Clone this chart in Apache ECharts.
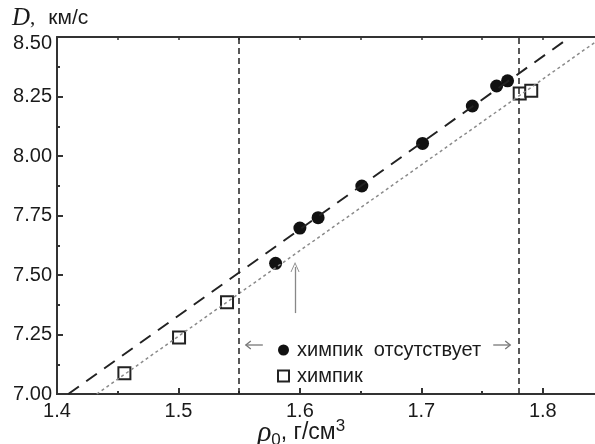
<!DOCTYPE html>
<html>
<head>
<meta charset="utf-8">
<script src="https://cdn.jsdelivr.net/npm/echarts@6/dist/echarts.min.js"></script>
<style>
  html, body { margin: 0; padding: 0; background: #fff; }
  #chart { width: 595px; height: 444px; }
</style>
</head>
<body>
<div id="chart"></div>
<script>
// данные
const circleRho = [1.580, 1.600, 1.615, 1.651, 1.701, 1.742, 1.762, 1.771]
const circleD = [7.549, 7.697, 7.741, 7.874, 8.053, 8.210, 8.294, 8.316]
const squareRho = [1.4555, 1.5005, 1.540, 1.781, 1.7905]
const squareD = [7.087, 7.237, 7.386, 8.263, 8.274]
// линии аппроксимации (концы)
const fitDashRho = [1.4093, 1.8226]
const fitDashD = [7.0, 8.5]
const fitDotRho = [1.4327, 1.8500]
const fitDotD = [7.0, 8.503]
// вертикальные границы и стрелка
const boundRho = [1.553, 1.7765]
const arrowRho = 1.596
const arrowD = [7.34, 7.534]
const legendNames = ['химпик  отсутствует', 'химпик']

const font = 'Liberation Sans'
const axisColor = '#333'
const textColor = '#1a1a1a'

const chart = echarts.init(document.getElementById('chart'))

const zip = (xs, ys) => xs.map((x, i) => [x, ys[i]])

const baseX = {
  type: 'value',
  min: 1.4,
  max: 1.85,
  splitLine: { show: false },
  axisLine: { lineStyle: { color: axisColor, width: 2 } }
}

const option = {
  animation: false,
  // сетка ровно по пикселям оригинала, без авто-ужатия под подписи
  grid: { left: 57, top: 37, bottom: 50, right: -8.5, outerBoundsMode: 'none', containLabel: false },
  xAxis: [
    Object.assign({}, baseX, {
      position: 'bottom',
      interval: 0.1,
      axisTick: { inside: true, length: 6, lineStyle: { color: axisColor, width: 2 } },
      axisLabel: {
        margin: 7,
        fontFamily: font,
        fontSize: 20,
        color: textColor,
        formatter: (v) => (Math.abs(v * 10 - Math.round(v * 10)) < 1e-6 && v < 1.84 ? v.toFixed(1) : '')
      },
      name: '{i|ρ}{sub|0}{t|, г/см}{sup|3}',
      nameLocation: 'middle',
      nameGap: 23,
      nameMoveOverlap: false,
      nameTextStyle: {
        padding: [0, 58, 0, 0],
        rich: {
          i: { fontFamily: 'Liberation Serif', fontStyle: 'italic', fontSize: 29, color: textColor },
          sub: { fontFamily: font, fontSize: 17, color: textColor, padding: [15, 0, 0, 0] },
          t: { fontFamily: font, fontSize: 23, color: textColor },
          sup: { fontFamily: font, fontSize: 17, color: textColor, padding: [0, 0, 13, 0] }
        }
      }
    }),
    Object.assign({}, baseX, {
      position: 'bottom',
      interval: 0.05,
      axisTick: { inside: true, length: 3, lineStyle: { color: axisColor, width: 2 } },
      axisLabel: { show: false }
    }),
    Object.assign({}, baseX, {
      position: 'top',
      interval: 0.05,
      axisTick: { inside: true, length: 3, lineStyle: { color: axisColor, width: 1.5 } },
      axisLabel: { show: false }
    })
  ],
  yAxis: {
    type: 'value',
    min: 7,
    max: 8.5,
    interval: 0.25,
    splitLine: { show: false },
    axisLine: { show: true, lineStyle: { color: axisColor, width: 2 } },
    axisTick: { show: true, inside: true, length: 6, lineStyle: { color: axisColor, width: 2 } },
    minorTick: { show: true, splitNumber: 2, length: 3, lineStyle: { color: axisColor, width: 2 } },
    axisLabel: {
      margin: 5,
      fontFamily: font,
      fontSize: 20,
      color: textColor,
      // верхняя подпись сдвинута вниз, как на оригинале
      formatter: (v) => (v >= 8.5 ? '{top|' + v.toFixed(2) + '}' : v.toFixed(2)),
      rich: {
        top: { fontFamily: font, fontSize: 20, color: textColor, padding: [12, 0, 0, 0] }
      }
    },
    name: '{i|D}{c|,}{u|км/с}',
    nameLocation: 'end',
    nameGap: 6,
    nameTextStyle: {
      align: 'left',
      padding: [0, 0, 0, -45],
      rich: {
        i: { fontFamily: 'Liberation Serif', fontStyle: 'italic', fontSize: 25, color: textColor },
        c: { fontFamily: 'Liberation Serif', fontSize: 21, color: textColor },
        u: { fontFamily: font, fontSize: 21, color: textColor, padding: [0, 0, 0, 13] }
      }
    }
  },
  legend: {
    orient: 'vertical',
    left: 272,
    top: 335,
    itemWidth: 11,
    itemHeight: 11,
    itemGap: 6,
    selectedMode: false,
    textStyle: { fontFamily: font, fontSize: 20, color: textColor, lineHeight: 20, padding: [0, 0, 0, 3] },
    data: [
      { name: legendNames[0], icon: 'circle' },
      { name: legendNames[1], icon: 'rect' }
    ]
  },
  series: [
    {
      type: 'line',
      data: zip(fitDashRho, fitDashD),
      symbol: 'none',
      silent: true,
      lineStyle: { color: '#222', width: 2, type: [13, 9] },
      markLine: {
        silent: true,
        symbol: 'none',
        label: { show: false },
        lineStyle: { color: '#222', width: 1.5, type: [6, 4] },
        data: boundRho.map((r) => ({ xAxis: r }))
      }
    },
    {
      type: 'line',
      data: zip(fitDotRho, fitDotD),
      symbol: 'none',
      silent: true,
      lineStyle: { color: '#8a8a8a', width: 1.5, type: [3, 3] },
      markLine: {
        silent: true,
        symbol: ['none', 'path://M0,10 L5,0 L10,10 L9,10 L5,2 L1,10 Z'],
        symbolSize: [9, 10],
        label: { show: false },
        lineStyle: { color: '#888', width: 1.3, type: 'solid' },
        data: [[{ coord: [arrowRho, arrowD[0]] }, { coord: [arrowRho, arrowD[1]] }]]
      }
    },
    {
      name: legendNames[1],
      type: 'scatter',
      data: zip(squareRho, squareD),
      symbol: 'rect',
      symbolSize: 12,
      itemStyle: { color: '#fff', borderColor: '#222', borderWidth: 2, opacity: 1 }
    },
    {
      name: legendNames[0],
      type: 'scatter',
      data: zip(circleRho, circleD),
      symbol: 'circle',
      symbolSize: 13,
      itemStyle: { color: '#111', opacity: 1 }
    }
  ]
}

chart.setOption(option)

// стрелки "← ... →" между вертикальными линиями
const xl = chart.convertToPixel({ xAxisIndex: 0 }, boundRho[0])
const xr = chart.convertToPixel({ xAxisIndex: 0 }, boundRho[1])
const ay = 345
const arrowStyle = { stroke: '#777', lineWidth: 1.3, fill: null }
chart.setOption({
  graphic: [
    { type: 'line', shape: { x1: xl + 3, y1: ay, x2: xl + 20, y2: ay }, style: arrowStyle },
    { type: 'polyline', shape: { points: [[xl + 8, ay - 4], [xl + 3, ay], [xl + 8, ay + 4]] }, style: arrowStyle },
    { type: 'line', shape: { x1: xr - 21, y1: ay, x2: xr - 4, y2: ay }, style: arrowStyle },
    { type: 'polyline', shape: { points: [[xr - 9, ay - 4], [xr - 4, ay], [xr - 9, ay + 4]] }, style: arrowStyle }
  ]
})
</script>
</body>
</html>
